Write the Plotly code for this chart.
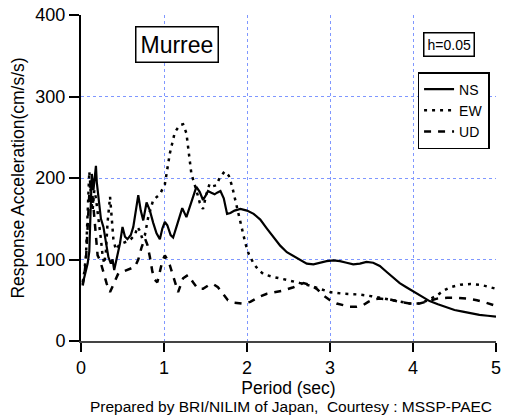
import plotly.graph_objects as go

# ---- data ----
ns_x = [0.02,0.04,0.06,0.08,0.10,0.12,0.13,0.15,0.17,0.18,0.19,0.20,0.22,0.24,0.27,0.30,0.33,0.36,0.38,0.40,0.43,0.47,0.50,0.53,0.56,0.60,0.63,0.66,0.69,0.72,0.75,0.79,0.83,0.87,0.91,0.95,0.98,1.01,1.04,1.08,1.11,1.15,1.19,1.22,1.27,1.31,1.35,1.39,1.43,1.47,1.50,1.53,1.57,1.61,1.64,1.68,1.72,1.76,1.80,1.85,1.92,2.00,2.08,2.16,2.24,2.32,2.40,2.48,2.56,2.64,2.72,2.80,2.88,2.96,3.04,3.12,3.20,3.28,3.36,3.44,3.52,3.60,3.68,3.76,3.84,3.92,4.00,4.10,4.20,4.30,4.40,4.50,4.60,4.70,4.80,4.90,5.00]
ns_y = [70,78,85,95,110,160,205,185,210,215,195,185,165,150,140,120,103,95,100,87,100,120,140,128,125,130,140,160,179,160,148,170,160,145,132,125,138,146,142,130,127,140,155,163,152,165,178,189,183,173,178,184,182,180,182,184,175,156,157,160,162,160,156,149,138,127,117,109,104,99,95,94,96,98,99,98,96,94,95,97,96,92,85,78,71,66,61,55,49,45,41,38,36,34,32,31,30]

ew_x = [0.02,0.04,0.06,0.08,0.10,0.11,0.12,0.14,0.16,0.18,0.20,0.22,0.24,0.26,0.28,0.30,0.32,0.35,0.37,0.39,0.42,0.46,0.50,0.55,0.60,0.65,0.68,0.71,0.74,0.77,0.81,0.87,0.95,1.01,1.07,1.13,1.19,1.23,1.27,1.30,1.33,1.39,1.43,1.47,1.51,1.55,1.59,1.63,1.67,1.73,1.78,1.82,1.86,1.90,1.94,1.98,2.02,2.08,2.14,2.20,2.30,2.40,2.52,2.64,2.76,2.88,3.00,3.16,3.36,3.50,3.64,3.80,3.96,4.08,4.18,4.29,4.37,4.45,4.57,4.69,4.81,4.93,5.00]
ew_y = [72,85,105,150,208,195,175,160,185,175,160,145,125,105,95,110,145,177,150,125,112,118,120,122,125,130,140,135,125,130,152,173,180,192,230,256,265,266,255,230,205,185,170,162,180,193,190,191,200,208,203,190,173,155,136,120,107,95,87,82,79,77,74,71,68,64,60,58,57,55,52,49,46,46,50,56,62,66,69,70,69,66,64]

ud_x = [0.02,0.04,0.06,0.08,0.10,0.12,0.14,0.16,0.18,0.20,0.23,0.27,0.31,0.35,0.40,0.45,0.50,0.55,0.60,0.65,0.69,0.73,0.77,0.80,0.83,0.86,0.89,0.92,0.95,0.98,1.01,1.04,1.07,1.12,1.17,1.23,1.29,1.35,1.41,1.47,1.53,1.59,1.65,1.71,1.77,1.85,1.94,2.04,2.14,2.24,2.34,2.44,2.56,2.68,2.76,2.84,2.92,3.00,3.08,3.16,3.24,3.32,3.40,3.46,3.52,3.60,3.72,3.84,3.96,4.08,4.18,4.29,4.41,4.53,4.65,4.77,4.88,5.00]
ud_y = [68,80,100,140,180,200,175,150,120,105,99,85,70,60,72,83,85,87,89,91,100,115,126,118,103,85,75,72,85,98,105,100,93,75,60,77,81,72,64,64,68,70,66,58,50,47,46,48,54,58,60,62,66,71,69,64,56,50,46,44,42,42,44,48,51,52,51,48,46,46,49,52,53,53,52,50,47,43]

x_ticks = [0, 1, 2, 3, 4, 5]
y_ticks = [0, 100, 200, 300, 400]

FONT = "Liberation Sans, Arial, sans-serif"

fig = go.Figure()
fig.add_trace(go.Scatter(x=ns_x, y=ns_y, mode="lines", name="NS",
                         line=dict(color="black", width=2.2)))
fig.add_trace(go.Scatter(x=ew_x, y=ew_y, mode="lines", name="EW",
                         line=dict(color="black", width=2.5, dash="3px,5px")))
fig.add_trace(go.Scatter(x=ud_x, y=ud_y, mode="lines", name="UD",
                         line=dict(color="black", width=2.5, dash="7px,7px")))

grid = "#7f97ff"
fig.update_layout(
    width=516, height=419,
    margin=dict(l=81, r=20, t=15, b=78, autoexpand=False),
    paper_bgcolor="white", plot_bgcolor="white",
    font=dict(family=FONT, color="black", size=16),
    showlegend=True,
    legend=dict(x=0.811, y=0.825, xanchor="left", yanchor="top",
                bordercolor="black", borderwidth=1.5, bgcolor="white",
                font=dict(size=14, family=FONT), itemwidth=30,
                tracegroupgap=0),
    xaxis=dict(range=[0, 5], tickvals=x_ticks, ticks="outside", ticklen=9,
               tickwidth=1.5, tickcolor="black", automargin=False,
               showline=True, linecolor="#444", linewidth=2,
               showgrid=True, gridcolor=grid, griddash="dot", gridwidth=1,
               zeroline=False, tickfont=dict(size=18),
               title=dict(text="Period (sec)", font=dict(size=17.5), standoff=3)),
    yaxis=dict(range=[0, 400], tickvals=y_ticks, ticks="outside", ticklen=10,
               tickwidth=1.5, tickcolor="black", automargin=False,
               showline=True, linecolor="black", linewidth=2,
               showgrid=True, gridcolor=grid, griddash="dot", gridwidth=1,
               zeroline=False, tickfont=dict(size=18),
               title=dict(text="Response Acceleration(cm/s/s)", font=dict(size=17.5), standoff=6)),
    annotations=[
        dict(text="Murree", x=0.231, y=0.908, xref="paper", yref="paper",
             xanchor="center", yanchor="middle",
             showarrow=False, font=dict(size=23, family=FONT),
             bordercolor="black", borderwidth=1.5, borderpad=4, bgcolor="white"),
        dict(text="h=0.05", x=0.887, y=0.908, xref="paper", yref="paper",
             xanchor="center", yanchor="middle",
             showarrow=False, font=dict(size=14, family=FONT),
             bordercolor="black", borderwidth=1.5, borderpad=3, bgcolor="white"),
        dict(text="Prepared by BRI/NILIM of Japan,  Courtesy : MSSP-PAEC",
             x=0.506, y=-0.202, xref="paper", yref="paper", showarrow=False,
             xanchor="center", yanchor="middle",
             font=dict(size=15.5, family=FONT)),
    ],
)

fig.write_html("out.html")
